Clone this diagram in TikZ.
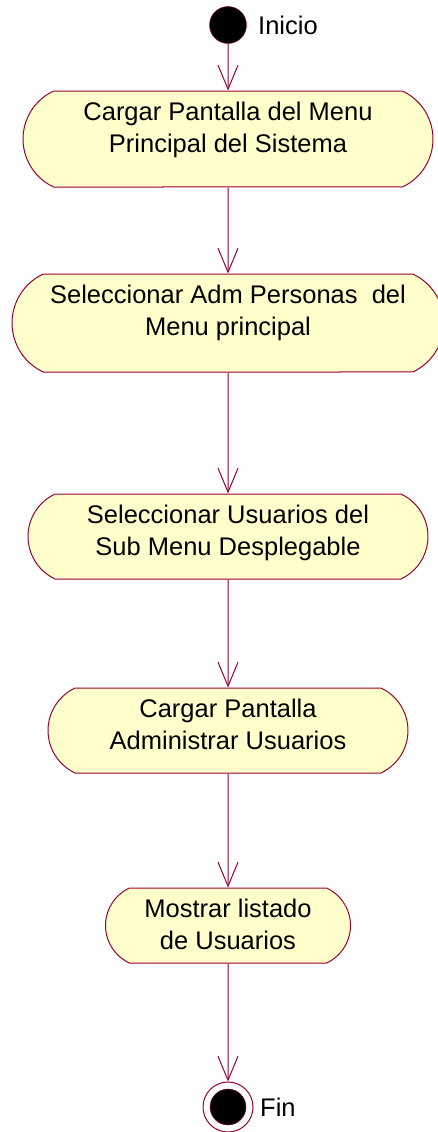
\documentclass[tikz,border=0pt]{standalone}
\usepackage{fontspec}
\setmainfont{Liberation Sans}
\usetikzlibrary{arrows.meta,shapes.misc}
\definecolor{umlred}{RGB}{153,0,51}
\definecolor{umlfill}{RGB}{255,255,204}
\begin{document}
\begin{tikzpicture}[x=1pt, y=-1pt,
    activity/.style={rounded rectangle, rounded rectangle arc length=130,
      draw=umlred, fill=umlfill, line width=1pt, align=center,
      inner xsep=0pt, inner ysep=0pt, text height=61pt,
      font=\fontsize{25.5}{32}\selectfont},
    flow/.style={draw=umlred, line width=1pt,
      -{Straight Barb[length=24pt, width=20pt]}},
    tag/.style={font=\fontsize{25.5}{32}\selectfont, anchor=west, inner sep=0pt}]
  \useasboundingbox (0,0) rectangle (437,1132);

  \node[circle, fill=black, draw=umlred, minimum size=37pt, inner sep=0pt] (s) at (228, 25) {};
  \node[tag] (si) at (258, 25) {Inicio};

  \node[activity, minimum width=410pt, text depth=35pt] (a) at (228, 139) {Cargar Pantalla del Menu\\ Principal del Sistema};
  \node[activity, minimum width=432pt, text depth=37pt] (b) at (228, 323) {Seleccionar Adm Personas\ \ del\\ Menu principal};
  \node[activity, minimum width=400pt, text depth=24pt] (c) at (228, 536.5) {Seleccionar Usuarios del\\ Sub Menu Desplegable};
  \node[activity, minimum width=360pt, text depth=24pt] (d) at (228, 730.5) {Cargar Pantalla\\ Administrar Usuarios};
  \node[activity, minimum width=245pt, text depth=14pt] (e) at (228, 925.5) {Mostrar listado\\ de Usuarios};

  \node[circle, fill=white, draw=umlred, line width=1pt, minimum size=50pt, inner sep=0pt] (f) at (228, 1107) {};
  \node[circle, fill=black, draw=umlred, minimum size=36pt, inner sep=0pt] (fd) at (228, 1107) {};
  \node[tag] (fl) at (260, 1107) {Fin};

  \draw[flow] (s) -- (a);
  \draw[flow] (a) -- (b);
  \draw[flow] (b) -- (c);
  \draw[flow] (c) -- (d);
  \draw[flow] (d) -- (e);
  \draw[flow] (e) -- (f);
\end{tikzpicture}
\end{document}
